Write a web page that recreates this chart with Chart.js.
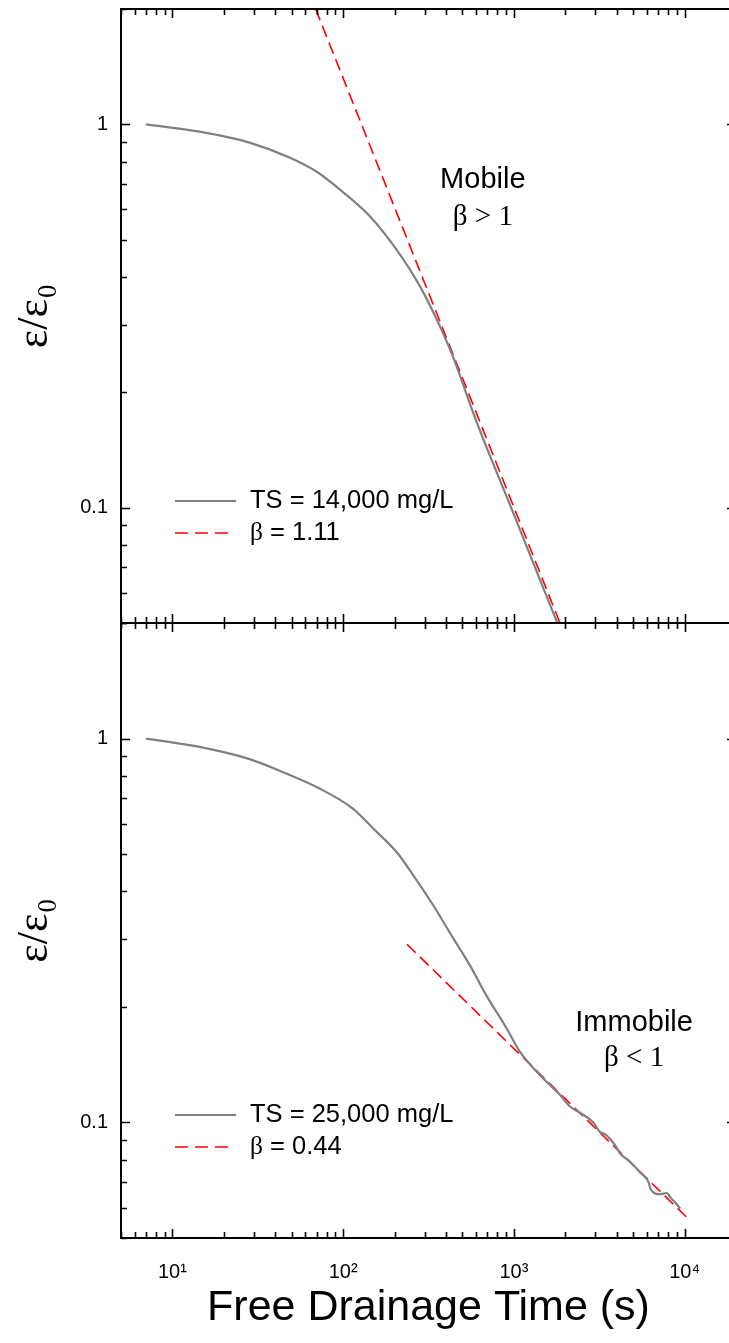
<!DOCTYPE html>
<html>
<head>
<meta charset="utf-8">
<script src="https://cdn.jsdelivr.net/npm/chart.js@4.4.1/dist/chart.umd.min.js"></script>
<style>
  html, body { margin: 0; padding: 0; background: #fff; }
  #wrap { position: relative; width: 729px; height: 1343px; overflow: hidden; }
  canvas { position: absolute; left: 0; top: 0; }
</style>
</head>
<body>
<div id="wrap">
  <canvas id="topChart" width="740" height="640"></canvas>
  <canvas id="bottomChart" width="740" height="1343"></canvas>
</div>
<script>
// Values (time in s, eps/eps0)
const timeTop = [7, 14.4, 28.3, 48.5, 71.1, 91.2, 143, 205, 281, 368, 441, 600, 1000, 1400, 1900];
const ratioTop = [1.0, 0.957, 0.896, 0.819, 0.749, 0.688, 0.577, 0.472, 0.379, 0.298, 0.247, 0.169, 0.096, 0.066, 0.047];
const fitTopTime = [69, 1862];
const fitTopRatio = [2.0, 0.05];

const timeBottom = [7, 14.4, 28.3, 46.4, 72.8, 114, 150, 205, 257, 337, 441, 552, 691, 906, 1084, 1419, 1862, 2130, 2440, 2920, 3190, 3450, 3910, 4190, 4790, 5480, 6140, 6330, 7180, 7860, 8300, 9000, 9420];
const ratioBottom = [1.0, 0.951, 0.884, 0.811, 0.741, 0.657, 0.583, 0.507, 0.441, 0.368, 0.302, 0.257, 0.214, 0.176, 0.153, 0.133, 0.118, 0.110, 0.106, 0.100, 0.0945, 0.093, 0.0873, 0.083, 0.079, 0.0742, 0.070, 0.067, 0.065, 0.0655, 0.0636, 0.0612, 0.0596];
const fitBottomTime = [237, 10770];
const fitBottomRatio = [0.291, 0.0555];

const seriesLabels = ['TS = 14,000 mg/L', 'β = 1.11', 'TS = 25,000 mg/L', 'β = 0.44'];

// axes
const xMajorTicks = [10, 100, 1000, 10000];
const xTickLabels = ['10¹', '10²', '10³', '10⁴'];
const yMajorTicks = [0.1, 1];
const yTickLabels = ['0.1', '1'];

const SANS = "'Liberation Sans', Arial, sans-serif";
const SERIF = "'Liberation Serif', 'Times New Roman', serif";
Chart.defaults.font.family = SANS;
Chart.defaults.color = '#000';

function toPoints(xs, ys) {
  return xs.map((x, i) => ({ x: x, y: ys[i] }));
}

// ticks 1..9 of every decade, 1 is major
function logTicks(min, max) {
  const ticks = [];
  for (let e = Math.floor(Math.log10(min)); e <= Math.ceil(Math.log10(max)); e++) {
    for (let m = 1; m <= 9; m++) {
      const v = parseFloat((m * Math.pow(10, e)).toPrecision(6));
      if (v >= min && v <= max) ticks.push({ value: v, major: m === 1 });
    }
  }
  return ticks;
}

// box + inward ticks on all 4 sides
const frameTicks = {
  id: 'frameTicks',
  afterDatasetsDraw(chart) {
    const { ctx, chartArea: a, scales: { x, y } } = chart;
    ctx.save();
    ctx.strokeStyle = '#000';
    ctx.lineWidth = 1.6;
    ctx.beginPath();
    x.ticks.forEach(t => {
      const px = Math.round(x.getPixelForValue(t.value)) + 0.5;
      const len = t.major ? 9 : 6;
      ctx.moveTo(px, a.bottom); ctx.lineTo(px, a.bottom - len);
      ctx.moveTo(px, a.top); ctx.lineTo(px, a.top + len);
    });
    y.ticks.forEach(t => {
      const py = Math.round(y.getPixelForValue(t.value)) + 0.5;
      const len = t.major ? 9 : 6;
      ctx.moveTo(a.left, py); ctx.lineTo(a.left + len, py);
      ctx.moveTo(a.right, py); ctx.lineTo(a.right - len, py);
    });
    ctx.stroke();
    ctx.lineWidth = 2;
    ctx.strokeRect(a.left, a.top, a.right - a.left, a.bottom - a.top);
    ctx.restore();
  }
};

// legend with line samples, greek letter in serif
const sampleLegend = {
  id: 'sampleLegend',
  afterDraw(chart, args, opts) {
    const { ctx, chartArea: a } = chart;
    ctx.save();
    chart.data.datasets.forEach((ds, i) => {
      const y = a.top + opts.rows[i];
      const x0 = a.left + opts.lineStart;
      ctx.beginPath();
      ctx.strokeStyle = ds.borderColor;
      ctx.lineWidth = ds.borderWidth;
      ctx.setLineDash(ds.borderDash ? [13, 7] : []);
      ctx.moveTo(x0, y);
      ctx.lineTo(x0 + (ds.borderDash ? opts.lineLen - 7 : opts.lineLen), y);
      ctx.stroke();
      ctx.setLineDash([]);
      ctx.fillStyle = '#000';
      ctx.textBaseline = 'middle';
      let tx = a.left + opts.textStart;
      let text = ds.label;
      if (text.startsWith('β')) {
        ctx.font = opts.size + 'px ' + SERIF;
        ctx.fillText('β', tx, y);
        tx += ctx.measureText('β').width;
        text = text.slice(1);
      }
      ctx.font = opts.size + 'px ' + SANS;
      ctx.fillText(text, tx, y);
    });
    ctx.restore();
  }
};

// text notes placed in data coordinates
const notes = {
  id: 'notes',
  afterDraw(chart, args, opts) {
    const { ctx, scales: { x, y } } = chart;
    ctx.save();
    ctx.fillStyle = '#000';
    ctx.textAlign = 'center';
    ctx.textBaseline = 'alphabetic';
    opts.items.forEach(n => {
      ctx.font = n.size + 'px ' + (n.serif ? SERIF : SANS);
      ctx.fillText(n.text, x.getPixelForValue(n.x), y.getPixelForValue(n.y));
    });
    ctx.restore();
  }
};

function makeChart(id, cfg) {
  return new Chart(document.getElementById(id), {
    type: 'line',
    data: {
      datasets: [{
        label: cfg.labels[0],
        data: toPoints(cfg.time, cfg.ratio),
        borderColor: '#808080',
        borderWidth: 2.2,
        pointRadius: 0,
        cubicInterpolationMode: 'monotone'
      }, {
        label: cfg.labels[1],
        data: toPoints(cfg.fitTime, cfg.fitRatio),
        borderColor: '#ff0000',
        borderWidth: 1.6,
        borderDash: [12, 6],
        pointRadius: 0
      }]
    },
    options: {
      responsive: false,
      animation: false,
      layout: { padding: cfg.padding },
      scales: {
        x: {
          type: 'logarithmic',
          min: 5,
          max: 20000,
          grid: { display: false, drawTicks: false },
          border: { display: false },
          afterBuildTicks: s => { s.ticks = logTicks(5, 20000); },
          afterFit: s => {
            s.height = cfg.xHeight;
            s.paddingLeft = 0; s.paddingRight = 0;
          },
          ticks: {
            display: cfg.showX,
            autoSkip: false,
            maxRotation: 0,
            padding: 22,
            font: { size: 20 },
            callback: v => {
              const i = xMajorTicks.indexOf(v);
              return i >= 0 ? xTickLabels[i] : '';
            }
          },
          title: {
            display: cfg.showX,
            text: 'Free Drainage Time (s)',
            font: { size: 43 },
            padding: { top: 0, bottom: 9 }
          }
        },
        y: {
          type: 'logarithmic',
          min: 0.05,
          max: 2,
          grid: { display: false, drawTicks: false },
          border: { display: false },
          afterBuildTicks: s => { s.ticks = logTicks(0.05, 2); },
          afterFit: s => {
            s.width = 121;
            s.paddingTop = 0; s.paddingBottom = 0;
          },
          ticks: {
            autoSkip: false,
            padding: 13,
            font: { size: 20 },
            callback: v => {
              const i = yMajorTicks.indexOf(v);
              return i >= 0 ? yTickLabels[i] : '';
            }
          },
          title: {
            display: true,
            text: 'ε/ε₀',
            font: { family: SERIF, size: 44 },
            padding: { top: 9, bottom: 0 }
          }
        }
      },
      plugins: {
        legend: { display: false },
        tooltip: { enabled: false },
        sampleLegend: { rows: [492, 524], lineStart: 54, lineLen: 61, textStart: 129, size: 25.5 },
        notes: { items: cfg.notes }
      }
    },
    plugins: [frameTicks, sampleLegend, notes]
  });
}

// top panel
makeChart('topChart', {
  time: timeTop, ratio: ratioTop,
  fitTime: fitTopTime, fitRatio: fitTopRatio,
  labels: [seriesLabels[0], seriesLabels[1]],
  padding: { top: 9, right: 4, bottom: 17, left: 0 },
  xHeight: 0,
  showX: false,
  notes: [
    { text: 'Mobile', x: 658, y: 0.681, size: 29 },
    { text: 'β > 1', x: 658, y: 0.546, size: 29, serif: true }
  ]
});

// bottom panel
makeChart('bottomChart', {
  time: timeBottom, ratio: ratioBottom,
  fitTime: fitBottomTime, fitRatio: fitBottomRatio,
  labels: [seriesLabels[2], seriesLabels[3]],
  padding: { top: 623, right: 4, bottom: 0, left: 0 },
  xHeight: 105,
  showX: true,
  notes: [
    { text: 'Immobile', x: 5060, y: 0.1726, size: 29 },
    { text: 'β < 1', x: 5060, y: 0.140, size: 29, serif: true }
  ]
});
</script>
</body>
</html>
